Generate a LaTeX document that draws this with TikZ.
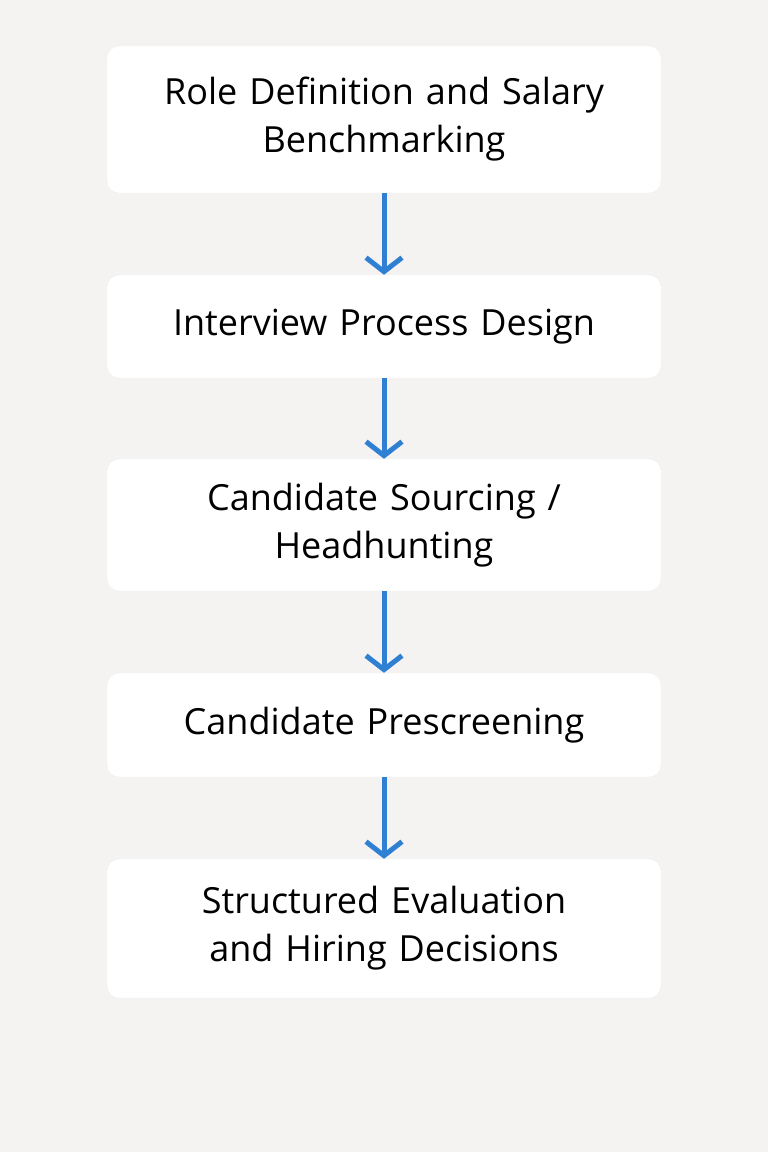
\documentclass[tikz,border=0pt]{standalone}
\usepackage{fontspec}
\setmainfont{Open Sans}
\usetikzlibrary{arrows.meta}
\definecolor{bgcol}{HTML}{F4F3F1}
\definecolor{arrowblue}{HTML}{2F7FD3}
\begin{document}
\begin{tikzpicture}
                [
                    x=1pt, y=1pt,
                    auto,
                    stage/.style={shape=rectangle, rounded corners=12pt, fill=white,
                        draw=black!6, minimum width=554pt, text width=520pt,
                        align=center, font=\fontsize{36}{48}\selectfont},
                    flow/.style={->, >={Straight Barb[length=14pt,width=36pt,line width=5pt]},
                        color=arrowblue, line width=5pt}
                ]
                \fill[bgcol] (0,0) rectangle (768,-1152);
                \useasboundingbox (0,0) rectangle (768,-1152);

                \node (role) [stage, minimum height=147pt] at (384,-119.5)
                    {Role Definition and Salary\\Benchmarking};
                \node (design) [stage, minimum height=103pt] at (384,-326.5)
                    {Interview Process Design};
                \node (sourcing) [stage, minimum height=132pt] at (384,-525)
                    {Candidate Sourcing /\\Headhunting};
                \node (prescreen) [stage, minimum height=104pt] at (384,-725)
                    {Candidate Prescreening};
                \node (evaluation) [stage, minimum height=139pt] at (384,-928.5)
                    {Structured Evaluation\\and Hiring Decisions};

                \path
                (role.south)      edge [flow] (design.north)
                (design.south)    edge [flow] (sourcing.north)
                (sourcing.south)  edge [flow] (prescreen.north)
                (prescreen.south) edge [flow] (evaluation.north)
                ;

            \end{tikzpicture}
\end{document}
